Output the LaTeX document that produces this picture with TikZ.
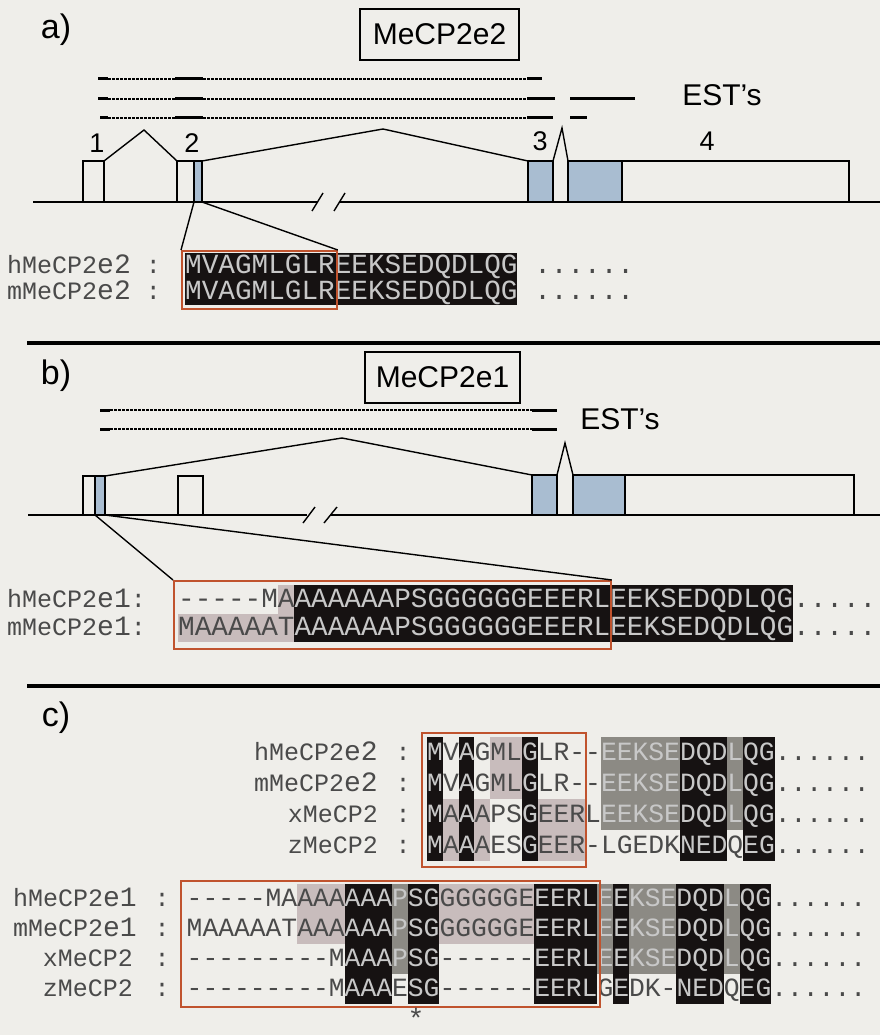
\documentclass[tikz,border=0pt]{standalone}
\usepackage{fontspec}
\setmainfont{Liberation Sans}
\newfontfamily\seqf{Liberation Mono}[Ligatures=TeXOff]
\definecolor{paper}{HTML}{EFEEEA}
\definecolor{blk}{HTML}{161212}
\definecolor{mgr}{HTML}{8C8A84}
\definecolor{pale}{HTML}{C8BCBC}
\definecolor{exblue}{HTML}{A9BDD1}
\definecolor{redbox}{HTML}{C0532E}
\definecolor{dtxt}{HTML}{4A4A4A}
\definecolor{ltxt}{HTML}{C8C8C8}
\newcommand\Lt[1]{\textcolor{ltxt}{#1}}
\newcommand\cb[5]{\fill[#1] ({\bX+(#2-1)*\bW},{\bY+(#3-1)*\bH}) rectangle ({\bX+#4*\bW},{\bY+#5*\bH});}
\newcommand\srow[3]{\node[seq] (#1) at (\bX,{\bY+(#2-0.5)*\bH+0.285*\seqsz}) {#3};}
\newcommand\lbl[2]{\fontsize{25}{25}\selectfont #1{\fontsize{28}{28}\selectfont #2}}
\newcommand\rowbase[1]{\bY+(#1-0.5)*\bH+0.285*\seqsz}
\begin{document}
\begin{tikzpicture}[x=1pt,y=-1pt,
 hd/.style={font=\fontsize{34}{34}\selectfont, inner sep=0},
 ttl/.style={draw, line width=1.3pt, inner sep=0, minimum height=51pt, font=\fontsize{30}{30}\selectfont},
 num/.style={font=\fontsize{27}{27}\selectfont, inner sep=0},
 estt/.style={font=\fontsize{30}{30}\selectfont, inner sep=0},
 estl/.style={line width=3pt},
 estd/.style={line width=1.1pt, dash pattern=on 2.5pt off 1.5pt},
 gl/.style={line width=1.4pt},
 rbox/.style={draw=redbox, line width=1.8pt, inner sep=0},
 seq/.style={font=\seqf\fontsize{\seqsz}{\seqsz}\selectfont, inner sep=0, anchor=base west, text=dtxt, text height=15pt, text depth=3pt},
 lab/.style={font=\seqf, inner sep=0, text=dtxt, text height=15pt, text depth=3pt},
 sepline/.style={line width=4pt}]
\useasboundingbox (0,0) rectangle (880,1035);
\fill[paper] (0,0) rectangle (880,1035);

% ================= a) =================
\node[hd] (ha) at (56,30) {a)};
\node[ttl, minimum width=159pt] (ta) at (439.5,34.5) {MeCP2e2};
% EST lines
\draw[estl] (98,79) -- (108,79); \draw[estd] (108,79) -- (175,79); \draw[estl] (175,79) -- (203,79);
\draw[estd] (203,79) -- (527,79); \draw[estl] (527,79) -- (542,79);
\draw[estl] (98,99) -- (108,99); \draw[estd] (108,99) -- (175,99); \draw[estl] (175,99) -- (203,99);
\draw[estd] (203,99) -- (527,99); \draw[estl] (527,99) -- (555,99); \draw[estl] (570,99) -- (635,99);
\draw[estl] (100,118) -- (108,118); \draw[estd] (108,118) -- (175,118); \draw[estl] (175,118) -- (203,118);
\draw[estd] (203,118) -- (527,118); \draw[estl] (527,118) -- (553,118); \draw[estl] (570,118) -- (587,118);
\node[estt] (esta) at (722,95) {EST’s};
% exon numbers
\node[num] (n1) at (97,143) {1};
\node[num] (n2) at (192,143) {2};
\node[num] (n3) at (540,141) {3};
\node[num] (n4) at (707,141) {4};
% exons
\fill[exblue] (194,161) rectangle (202,202);
\fill[exblue] (528,161) rectangle (553,202);
\fill[exblue] (568,161) rectangle (622,202);
\draw[gl] (83,161) rectangle (104,202);
\draw[gl] (177,161) rectangle (202,202); \draw[gl] (194,161) -- (194,202);
\draw[gl] (528,161) rectangle (553,202);
\draw[gl] (568,161) rectangle (849,202); \draw[gl] (622,161) -- (622,202);
\draw[gl] (104,161) -- (144,130) -- (177,161);
\draw[gl] (202,161) -- (383,129) -- (528,161);
\draw[gl] (553,161) -- (562,128) -- (568,161);
\draw[gl] (33,202) -- (317,202); \draw[gl] (339,202) -- (880,202);
\draw[gl] (312,211) -- (323,193); \draw[gl] (334,211) -- (345,193);
\coordinate (a2l) at (194,202);
\coordinate (a2r) at (202,202);
% alignment a
\def\bX{185}\def\bW{16.62}\def\bY{253}\def\bH{26}\def\seqsz{27.7}
\cb{blk}{1}{1}{20}{2}
\srow{ah}{1}{\Lt{MVAGMLGLREEKSEDQDLQG} ......}
\srow{am}{2}{\Lt{MVAGMLGLREEKSEDQDLQG} ......}
\node[lab, anchor=base west] (lah) at (7,{\rowbase{1}}) {\lbl{hMeCP2}{e2} :};
\node[lab, anchor=base west] (lam) at (7,{\rowbase{2}}) {\lbl{mMeCP2}{e2} :};
\node[rbox, minimum width=155pt, minimum height=58pt, anchor=north west] (abox) at (181,250) {};
\draw[gl] (a2l) -- (abox.north west);
\draw[gl] (a2r) -- (abox.north east);

\draw[sepline] (27,343) -- (880,343);

% ================= b) =================
\node[hd] (hb) at (56,376) {b)};
\node[ttl, minimum width=155pt] (tb) at (442.5,377.5) {MeCP2e1};
\draw[estl] (100,410) -- (110,410); \draw[estd] (110,410) -- (532,410); \draw[estl] (532,410) -- (557,410);
\draw[estl] (100,429) -- (110,429); \draw[estd] (110,429) -- (532,429); \draw[estl] (532,429) -- (557,429);
\node[estt] (estb) at (620,419) {EST’s};
\fill[exblue] (95,476) rectangle (105,515);
\fill[exblue] (532,475) rectangle (557,515);
\fill[exblue] (573,475) rectangle (625,515);
\draw[gl] (83,476) rectangle (105,515); \draw[gl] (95,476) -- (95,515);
\draw[gl] (178,476) rectangle (203,515);
\draw[gl] (532,475) rectangle (557,515);
\draw[gl] (573,475) rectangle (854,515); \draw[gl] (625,475) -- (625,515);
\draw[gl] (105,476) -- (342,438) -- (532,475);
\draw[gl] (557,475) -- (565,443) -- (573,475);
\draw[gl] (28,515) -- (307,515); \draw[gl] (330,515) -- (880,515);
\draw[gl] (303,523) -- (315,507); \draw[gl] (324,523) -- (337,507);
\coordinate (b1l) at (95,515);
\coordinate (b1r) at (105,515);
% alignment b
\def\bX{178}\def\bW{16.62}\def\bY{585}\def\bH{28.5}\def\seqsz{27.7}
\cb{blk}{8}{1}{37}{2}
\cb{pale}{7}{1}{7}{1}
\cb{pale}{1}{2}{7}{2}
\srow{bh}{1}{-----MA\Lt{AAAAAAPSGGGGGGEEERLEEKSEDQDLQG}.....}
\srow{bm}{2}{MAAAAAT\Lt{AAAAAAPSGGGGGGEEERLEEKSEDQDLQG}.....}
\node[lab, anchor=base west] (lbh) at (7,{\rowbase{1}}) {\lbl{hMeCP2}{e1}:};
\node[lab, anchor=base west] (lbm) at (7,{\rowbase{2}}) {\lbl{mMeCP2}{e1}:};
\node[rbox, minimum width=437pt, minimum height=68pt, anchor=north west] (bbox) at (173,580) {};
\draw[gl] (b1l) -- (bbox.north west);
\draw[gl] (b1r) -- (bbox.north east);

\draw[sepline] (27,686) -- (880,686);

% ================= c) =================
\node[hd] (hc) at (56,718) {c)};
% top block
\def\bX{427}\def\bW{15.8}\def\bY{737}\def\bH{31}\def\seqsz{26.33}
\cb{pale}{5}{1}{6}{2} \cb{pale}{2}{3}{2}{4} \cb{pale}{4}{3}{4}{4} \cb{pale}{8}{3}{10}{4}
\cb{mgr}{12}{1}{16}{3} \cb{mgr}{20}{1}{20}{3}
\cb{blk}{1}{1}{1}{4} \cb{blk}{3}{1}{3}{4} \cb{blk}{7}{1}{7}{4} \cb{blk}{17}{1}{19}{4} \cb{blk}{21}{1}{22}{4}
\srow{c1}{1}{\Lt{M}V\Lt{A}GML\Lt{G}LR--\Lt{EEKSEDQDLQG}......}
\srow{c2}{2}{\Lt{M}V\Lt{A}GML\Lt{G}LR--\Lt{EEKSEDQDLQG}......}
\srow{c3}{3}{\Lt{M}A\Lt{A}APS\Lt{G}EERL\Lt{EEKSEDQDLQG}......}
\srow{c4}{4}{\Lt{M}A\Lt{A}AES\Lt{G}EER-LGEDK\Lt{NED}Q\Lt{EG}......}
\node[lab, anchor=base east] (lc1) at (378,{\rowbase{1}}) {\lbl{hMeCP2}{e2}};
\node[lab, anchor=base east] (lc2) at (378,{\rowbase{2}}) {\lbl{mMeCP2}{e2}};
\node[lab, anchor=base east] (lc3) at (378,{\rowbase{3}}) {\lbl{xMeCP2}{}};
\node[lab, anchor=base east] (lc4) at (378,{\rowbase{4}}) {\lbl{zMeCP2}{}};
\node[lab, anchor=base] (kc1) at (403,{\rowbase{1}}) {\fontsize{25}{25}\selectfont :};
\node[lab, anchor=base] (kc2) at (403,{\rowbase{2}}) {\fontsize{25}{25}\selectfont :};
\node[lab, anchor=base] (kc3) at (403,{\rowbase{3}}) {\fontsize{25}{25}\selectfont :};
\node[lab, anchor=base] (kc4) at (403,{\rowbase{4}}) {\fontsize{25}{25}\selectfont :};
\node[rbox, minimum width=164pt, minimum height=134pt, anchor=north west] (cbox1) at (421,732) {};
% bottom block
\def\bX{186.5}\def\bW{15.8}\def\bY{884}\def\bH{30}\def\seqsz{26.33}
\cb{pale}{8}{1}{10}{2} \cb{pale}{17}{1}{22}{2}
\cb{mgr}{14}{1}{14}{3} \cb{mgr}{27}{1}{27}{3} \cb{mgr}{29}{1}{31}{3} \cb{mgr}{35}{1}{35}{3}
\cb{blk}{11}{1}{13}{4} \cb{blk}{15}{1}{16}{4} \cb{blk}{23}{1}{26}{4} \cb{blk}{28}{1}{28}{4} \cb{blk}{32}{1}{34}{4} \cb{blk}{36}{1}{37}{4}
\srow{d1}{1}{-----MAAAA\Lt{AAAPSG}GGGGGE\Lt{EERLEEKSEDQDLQG}......}
\srow{d2}{2}{MAAAAATAAA\Lt{AAAPSG}GGGGGE\Lt{EERLEEKSEDQDLQG}......}
\srow{d3}{3}{---------M\Lt{AAAPSG}------\Lt{EERLEEKSEDQDLQG}......}
\srow{d4}{4}{---------M\Lt{AAA}E\Lt{SG}------\Lt{EERL}G\Lt{E}DK-\Lt{NED}Q\Lt{EG}......}
\node[lab, anchor=base east] (ld1) at (137,{\rowbase{1}}) {\lbl{hMeCP2}{e1}};
\node[lab, anchor=base east] (ld2) at (137,{\rowbase{2}}) {\lbl{mMeCP2}{e1}};
\node[lab, anchor=base east] (ld3) at (133,{\rowbase{3}}) {\lbl{xMeCP2}{}};
\node[lab, anchor=base east] (ld4) at (133,{\rowbase{4}}) {\lbl{zMeCP2}{}};
\node[lab, anchor=base] (kd1) at (162,{\rowbase{1}}) {\fontsize{25}{25}\selectfont :};
\node[lab, anchor=base] (kd2) at (162,{\rowbase{2}}) {\fontsize{25}{25}\selectfont :};
\node[lab, anchor=base] (kd3) at (162,{\rowbase{3}}) {\fontsize{25}{25}\selectfont :};
\node[lab, anchor=base] (kd4) at (162,{\rowbase{4}}) {\fontsize{25}{25}\selectfont :};
\node[rbox, minimum width=419pt, minimum height=126pt, anchor=north west] (cbox2) at (180,880) {};
\node[lab, font=\seqf\fontsize{28}{28}\selectfont, text height=22pt, text depth=0pt, anchor=base] (star) at (416,1028) {*};
\end{tikzpicture}
\end{document}
